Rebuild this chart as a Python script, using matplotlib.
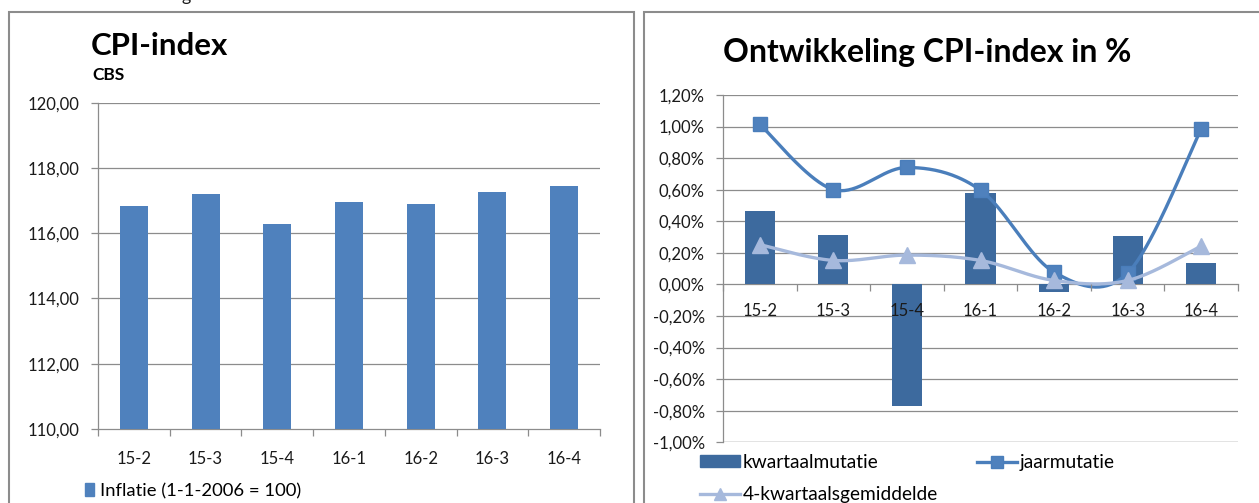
import numpy as np
import matplotlib
matplotlib.use("Agg")
import matplotlib.pyplot as plt
from matplotlib.patches import Rectangle, Patch
from matplotlib.lines import Line2D
from matplotlib.ticker import FuncFormatter, FixedLocator

plt.rcParams['font.family'] = ['Lato', 'DejaVu Sans']

# Data
quarters = ["15-2", "15-3", "15-4", "16-1", "16-2", "16-3", "16-4"]
cpi_index = [116.83, 117.20, 116.28, 116.96, 116.90, 117.26, 117.45]
kwartaalmutatie = [0.465, 0.311, -0.768, 0.580, -0.049, 0.309, 0.135]
jaarmutatie = [1.014, 0.601, 0.741, 0.597, 0.078, 0.072, 0.984]
vier_kwartaals = [0.252, 0.152, 0.186, 0.152, 0.025, 0.025, 0.243]

W, H = 1259, 503
fig = plt.figure(figsize=(W / 100, H / 100), dpi=100)
fig.patch.set_facecolor("white")

GRID = "#8C8C8C"
TXT = "#1a1a1a"
FS = 12.0
LEG_FS = 13.8


def fx(px):
    return px / W


def fy(py):
    return 1 - py / H


def smooth(xs, ys, n=40):
    """Bezier smoothing through the points (Catmull-Rom style control points)."""
    pts = np.column_stack([xs, ys]).astype(float)
    out = []
    for i in range(len(pts) - 1):
        p0 = pts[i - 1] if i > 0 else pts[i]
        p1 = pts[i]
        p2 = pts[i + 1]
        p3 = pts[i + 2] if i + 2 < len(pts) else pts[i + 1]
        c1 = p1 + (p2 - p0) / 6
        c2 = p2 - (p3 - p1) / 6
        t = np.linspace(0, 1, n)[:, None]
        seg = ((1 - t) ** 3) * p1 + 3 * ((1 - t) ** 2) * t * c1 + 3 * (1 - t) * t ** 2 * c2 + t ** 3 * p2
        out.append(seg if i == 0 else seg[1:])
    seg = np.vstack(out)
    return seg[:, 0], seg[:, 1]


def pct(v, p):
    if abs(v) < 1e-9:
        v = 0.0
    return f"{v:.2f}%".replace(".", ",")


def style_axes(ax):
    for s in ["top", "right"]:
        ax.spines[s].set_visible(False)
    for s in ["left", "bottom"]:
        ax.spines[s].set_color(GRID)
        ax.spines[s].set_linewidth(0.9)
    ax.xaxis.set_minor_locator(FixedLocator(np.arange(-0.5, len(quarters), 1)))
    ax.tick_params(axis="x", which="minor", length=5, color=GRID, width=0.9)
    ax.tick_params(axis="y", length=5, color=GRID, width=0.9, pad=8, labelsize=FS, labelcolor=TXT)
    ax.xaxis.set_zorder(10)


# Panel frames
fig.patches.append(Rectangle((fx(9), fy(520)), fx(634) - fx(9), fy(12) - fy(520),
                             transform=fig.transFigure, fill=False, ec=GRID, lw=1.5))
fig.patches.append(Rectangle((fx(644), fy(520)), fx(1275) - fx(644), fy(12) - fy(520),
                             transform=fig.transFigure, fill=False, ec=GRID, lw=1.5))
fig.text(fx(182), fy(1.5), "g", fontsize=13, color=TXT, va="baseline")

x = np.arange(len(quarters))

# ---------------- Left chart: CPI index ----------------
ax1 = fig.add_axes([fx(98), fy(429), fx(600) - fx(98), fy(102.7) - fy(429)])
ax1.set_ylim(110, 120)
ax1.set_xlim(-0.5, len(quarters) - 0.5)
yt1 = np.arange(110, 120.1, 2)
for v in yt1[1:]:
    ax1.axhline(v, color=GRID, lw=0.9, zorder=0)
ax1.bar(x, cpi_index, width=0.39, color="#4F81BD", zorder=3)
ax1.set_yticks(yt1)
ax1.yaxis.set_major_formatter(FuncFormatter(lambda v, p: f"{v:.2f}".replace(".", ",")))
ax1.set_xticks(x)
ax1.set_xticklabels(quarters)
ax1.tick_params(axis="x", which="major", length=0, pad=15.5, labelsize=FS, labelcolor=TXT)
style_axes(ax1)

fig.text(fx(91), fy(55), "CPI-index", fontsize=22.5, fontweight="bold", color="black", va="baseline")
fig.text(fx(92), fy(80), "CBS", fontsize=12.5, fontweight="bold", color="black", va="baseline")

fig.legend(handles=[Patch(color="#4F81BD")], labels=["Inflatie (1-1-2006 = 100)"],
           loc="center left", bbox_to_anchor=(fx(85), fy(491)), frameon=False,
           fontsize=13.3, handlelength=0.5, handleheight=0.7, handletextpad=0.3,
           borderpad=0, borderaxespad=0)

# ---------------- Right chart: CPI change in % ----------------
ax2 = fig.add_axes([fx(723), fy(442.3), fx(1238) - fx(723), fy(95) - fy(442.3)])
ax2.set_xlim(-0.5, len(quarters) - 0.5)
ax2.set_ylim(-1.0, 1.2)
yt2 = np.round(np.arange(-1.0, 1.21, 0.2), 2)
for v in yt2:
    if abs(v) > 1e-9:
        ax2.axhline(v, color=GRID, lw=0.9, zorder=0)
ax2.set_yticks(yt2)
ax2.yaxis.set_major_formatter(FuncFormatter(pct))

ax2.bar(x, kwartaalmutatie, width=0.41, color="#3D6A9E", zorder=3)

sx, sy = smooth(x, jaarmutatie)
ax2.plot(sx, sy, color="#4A7EBB", lw=2.4, zorder=4, solid_capstyle="round")
ax2.plot(x, jaarmutatie, ls="none", marker="s", ms=10.5, mfc="#4F81BD", mec="#4A7EBB", zorder=5)

vx, vy = smooth(x, vier_kwartaals)
ax2.plot(vx, vy, color="#A6B9DC", lw=2.4, zorder=6, solid_capstyle="round")
ax2.plot(x, vier_kwartaals, ls="none", marker="^", ms=11, mfc="#A6B9DC", mec="#A6B9DC", zorder=7)

ax2.spines["bottom"].set_position(("data", 0))
ax2.set_xticks(x)
ax2.set_xticklabels(quarters)
ax2.tick_params(axis="x", which="major", length=0, pad=13.5, labelsize=FS, labelcolor=TXT)
style_axes(ax2)
ax2.axhline(-1.0, color=GRID, lw=0.9, zorder=0)

fig.text(fx(927), fy(62), "Ontwikkeling CPI-index in %", fontsize=23, fontweight="bold",
         color="black", ha="center", va="baseline")

h_bar = Patch(color="#3D6A9E")
h_jaar = Line2D([], [], color="#4A7EBB", lw=2.4, marker="s", ms=9, mfc="#4F81BD", mec="#4A7EBB")
h_vier = Line2D([], [], color="#A6B9DC", lw=2.4, marker="^", ms=9, mfc="#A6B9DC", mec="#A6B9DC")
fig.legend(handles=[h_bar, h_vier, h_jaar],
           labels=["kwartaalmutatie", "4-kwartaalsgemiddelde", "jaarmutatie"],
           ncol=2, loc="upper left", bbox_to_anchor=(fx(700), fy(454)), frameon=False,
           fontsize=LEG_FS, handlelength=2.1, handleheight=0.55, handletextpad=0.15,
           columnspacing=2.0, labelspacing=0.8, borderpad=0, borderaxespad=0)

fig.savefig("out.png", dpi=100)
